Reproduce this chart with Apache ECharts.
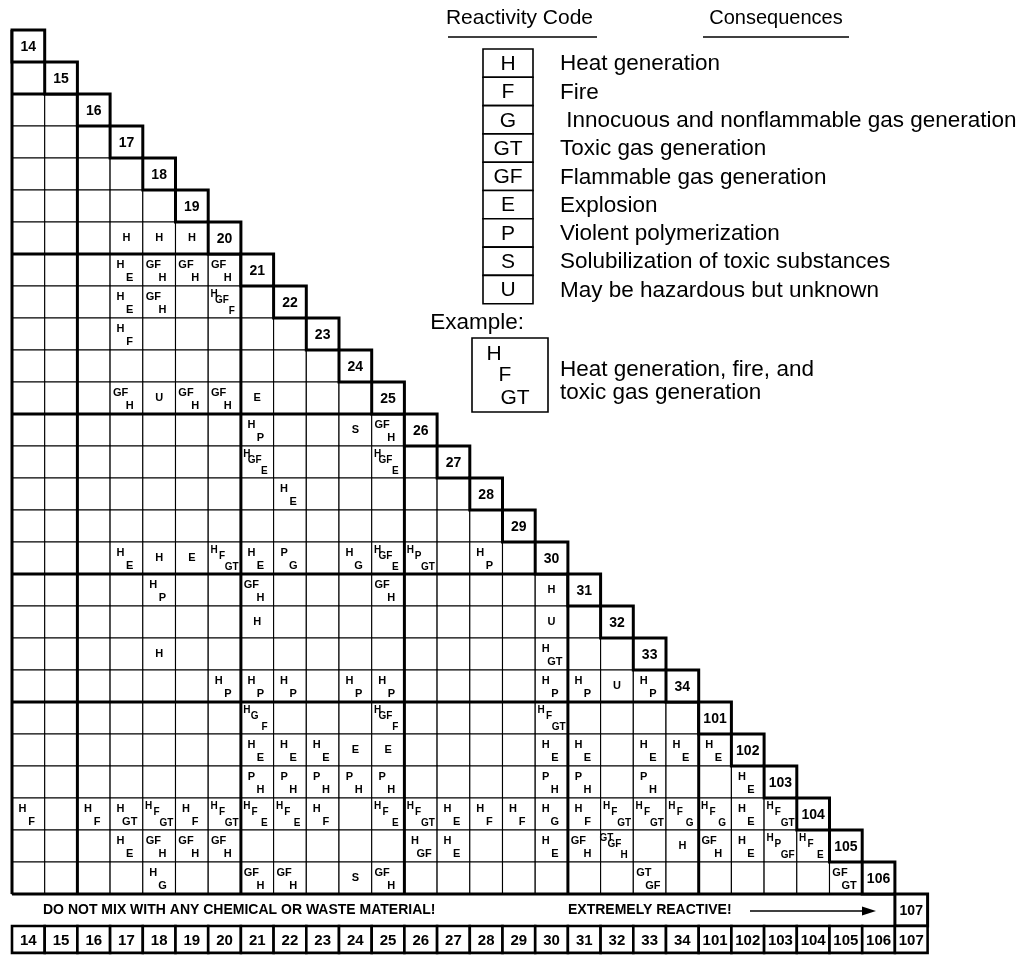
<!DOCTYPE html>
<html><head><meta charset="utf-8">
<script src="https://cdn.jsdelivr.net/npm/echarts@6/dist/echarts.min.js"></script>
<style>html,body{margin:0;padding:0;background:#fff}#c{width:1030px;height:955px}</style>
</head><body><div id="c"></div>
<script>
// ---------------- DATA ----------------
const groupLabels = ['14','15','16','17','18','19','20','21','22','23','24','25','26','27','28','29','30','31','32','33','34','101','102','103','104','105','106','107'];
// [row group, column group, reactivity codes]
const reactivity = [
  ['20','17','H'],['20','18','H'],['20','19','H'],
  ['21','17','H E'],['21','18','GF H'],['21','19','GF H'],['21','20','GF H'],
  ['22','17','H E'],['22','18','GF H'],['22','20','H GF F'],
  ['23','17','H F'],
  ['25','17','GF H'],['25','18','U'],['25','19','GF H'],['25','20','GF H'],['25','21','E'],
  ['26','21','H P'],['26','24','S'],['26','25','GF H'],
  ['27','21','H GF E'],['27','25','H GF E'],
  ['28','22','H E'],
  ['30','17','H E'],['30','18','H'],['30','19','E'],['30','20','H F GT'],['30','21','H E'],['30','22','P G'],['30','24','H G'],['30','25','H GF E'],['30','26','H P GT'],['30','28','H P'],
  ['31','18','H P'],['31','21','GF H'],['31','25','GF H'],['31','30','H'],
  ['32','21','H'],['32','30','U'],
  ['33','18','H'],['33','30','H GT'],
  ['34','20','H P'],['34','21','H P'],['34','22','H P'],['34','24','H P'],['34','25','H P'],['34','30','H P'],['34','31','H P'],['34','32','U'],['34','33','H P'],
  ['101','21','H G F'],['101','25','H GF F'],['101','30','H F GT'],
  ['102','21','H E'],['102','22','H E'],['102','23','H E'],['102','24','E'],['102','25','E'],['102','30','H E'],['102','31','H E'],['102','33','H E'],['102','34','H E'],['102','101','H E'],
  ['103','21','P H'],['103','22','P H'],['103','23','P H'],['103','24','P H'],['103','25','P H'],['103','30','P H'],['103','31','P H'],['103','33','P H'],['103','102','H E'],
  ['104','14','H F'],['104','16','H F'],['104','17','H GT'],['104','18','H F GT'],['104','19','H F'],['104','20','H F GT'],['104','21','H F E'],['104','22','H F E'],['104','23','H F'],['104','25','H F E'],['104','26','H F GT'],['104','27','H E'],['104','28','H F'],['104','29','H F'],['104','30','H G'],['104','31','H F'],['104','32','H F GT'],['104','33','H F GT'],['104','34','H F G'],['104','101','H F G'],['104','102','H E'],['104','103','H F GT'],
  ['105','17','H E'],['105','18','GF H'],['105','19','GF H'],['105','20','GF H'],['105','26','H GF'],['105','27','H E'],['105','30','H E'],['105','31','GF H'],['105','32','GT GF H'],['105','34','H'],['105','101','GF H'],['105','102','H E'],['105','103','H P GF'],['105','104','H F E'],
  ['106','18','H G'],['106','21','GF H'],['106','22','GF H'],['106','24','S'],['106','25','GF H'],['106','33','GT GF'],['106','105','GF GT']
];
const groupBreaks = ['16','21','26','31','101'];
const codeKeys = ['H','F','G','GT','GF','E','P','S','U'];
const codeMeanings = ['Heat generation','Fire',' Innocuous and nonflammable gas generation','Toxic gas generation','Flammable gas generation','Explosion','Violent polymerization','Solubilization of toxic substances','May be hazardous but unknown'];
const exampleCodes = ['H','F','GT'];
const exampleText = ['Heat generation, fire, and','toxic gas generation'];
const headerCode = 'Reactivity Code';
const headerConseq = 'Consequences';
const exampleTitle = 'Example:';
const footerLeft = 'DO NOT MIX WITH ANY CHEMICAL OR WASTE MATERIAL!';
const footerRight = 'EXTREMELY REACTIVE!';

// ---------------- BUILD ----------------
const N = groupLabels.length;
const idx = {}; groupLabels.forEach((g,i)=>idx[g]=i);
const codeMap = {};
reactivity.forEach(([r,c,codes])=>{ codeMap[idx[r]+'_'+idx[c]] = codes; });
const cellData = [], cellCodes = [];
for (let r = 1; r < N-1; r++) for (let c = 0; c < r; c++) {
  cellData.push([c, r]); cellCodes.push(codeMap[r+'_'+c] || '');
}
const diagData = groupLabels.map((g,i)=>[i,i]);
const bottomData = groupLabels.map((g,i)=>[i,N]);
const breakData = groupBreaks.map(g=>[idx[g]]);

const FONT = '"Liberation Sans", Arial, Helvetica, sans-serif';
function txt(t, x, y, font, align) {
  return {type:'text', style:{text:t, x:x, y:y, font:font, fill:'#000',
    align: align||'center', verticalAlign:'middle', textAlign: align||'center', textVerticalAlign:'middle'}};
}

function renderCell(params, api) {
  const p = api.coord([api.value(0), api.value(1)]);
  const s = api.size([1,1]); const w = s[0], h = s[1];
  const ch = [{type:'rect', shape:{x:p[0], y:p[1], width:w, height:h}, style:{fill:'#fff', stroke:'#000', lineWidth:1.1}}];
  const codes = cellCodes[params.dataIndex].split(' ').filter(Boolean);
  const f = 'bold 11px ' + FONT, f3 = 'bold 10px ' + FONT;
  if (codes.length === 1) ch.push(txt(codes[0], p[0]+w*0.5, p[1]+h*0.5, f));
  else if (codes.length === 2) {
    ch.push(txt(codes[0], p[0]+w*0.32, p[1]+h*0.33, f));
    ch.push(txt(codes[1], p[0]+w*0.6, p[1]+h*0.75, f));
  } else if (codes.length === 3) {
    ch.push(txt(codes[0], p[0]+w*0.18, p[1]+h*0.25, f3));
    ch.push(txt(codes[1], p[0]+w*0.42, p[1]+h*0.45, f3));
    ch.push(txt(codes[2], p[0]+w*0.72, p[1]+h*0.78, f3));
  }
  return {type:'group', children:ch};
}
function renderDiag(params, api) {
  const i = api.value(0);
  const p = api.coord([i, api.value(1)]);
  const s = api.size([1,1]);
  return {type:'group', children:[
    {type:'rect', shape:{x:p[0], y:p[1], width:s[0], height:s[1]}, style:{fill:'#fff', stroke:'#000', lineWidth:3}},
    txt(groupLabels[i], p[0]+s[0]/2, p[1]+s[1]/2+1, 'bold 14px ' + FONT)
  ]};
}
function renderBottom(params, api) {
  const i = api.value(0);
  const p = api.coord([i, api.value(1)]);
  const s = api.size([1,0.84]);
  return {type:'group', children:[
    {type:'rect', shape:{x:p[0], y:p[1], width:s[0], height:s[1]}, style:{fill:'#fff', stroke:'#000', lineWidth:2.6}},
    txt(groupLabels[i], p[0]+s[0]/2, p[1]+s[1]/2+1, 'bold 15px ' + FONT)
  ]};
}
function renderBreak(params, api) {
  const b = api.value(0);
  const a = api.coord([b, b]), v = api.coord([b, N-1]);
  const h0 = api.coord([0, b]);
  return {type:'group', children:[
    {type:'line', shape:{x1:a[0], y1:a[1], x2:v[0], y2:v[1]}, style:{stroke:'#000', lineWidth:3}},
    {type:'line', shape:{x1:h0[0], y1:h0[1], x2:a[0], y2:a[1]}, style:{stroke:'#000', lineWidth:3}}
  ]};
}
function renderFrame(params, api) {
  const t = api.coord([0,0]), bl = api.coord([0,N-1]), br = api.coord([N-1,N-1]);
  return {type:'group', children:[
    {type:'line', shape:{x1:t[0], y1:t[1], x2:bl[0], y2:bl[1]}, style:{stroke:'#000', lineWidth:3}},
    {type:'line', shape:{x1:bl[0], y1:bl[1], x2:br[0], y2:br[1]}, style:{stroke:'#000', lineWidth:3}}
  ]};
}

// legend graphics
const LF = '22.5px ' + FONT;
function gtext(t, x, y, font, align) {
  return {type:'text', x:x, y:y, style:{text:t, font:font, fill:'#000', textAlign:align, textVerticalAlign:'middle', align:align, verticalAlign:'middle'}};
}
const g = [];
g.push(gtext(headerCode, 593, 18, '21px '+FONT, 'right'));
g.push({type:'line', shape:{x1:448, y1:37, x2:597, y2:37}, style:{stroke:'#000', lineWidth:1.6}});
g.push(gtext(headerConseq, 776, 18, '20px '+FONT, 'center'));
g.push({type:'line', shape:{x1:703, y1:37, x2:849, y2:37}, style:{stroke:'#000', lineWidth:1.6}});
const rowH = 28.3, top0 = 49;
codeKeys.forEach((k,i)=>{
  const y = top0 + i*rowH;
  g.push({type:'rect', shape:{x:483, y:y, width:50, height:rowH}, style:{fill:'#fff', stroke:'#000', lineWidth:1.6}});
  g.push(gtext(k, 508, y+rowH/2+1, '21px '+FONT, 'center'));
  g.push(gtext(codeMeanings[i], 560, y+rowH/2+1, LF, 'left'));
});
g.push(gtext(exampleTitle, 524, 323, LF, 'right'));
g.push({type:'rect', shape:{x:472, y:338, width:76, height:74}, style:{fill:'#fff', stroke:'#000', lineWidth:1.6}});
const exPos = [[494,354],[505,375],[515,398]];
exampleCodes.forEach((k,i)=>g.push(gtext(k, exPos[i][0], exPos[i][1], '21px '+FONT, 'center')));
exampleText.forEach((t,i)=>g.push(gtext(t, 560, 370+i*23, LF, 'left')));
// footer band
g.push(gtext(footerLeft, 43, 910, 'bold 14px '+FONT, 'left'));
g.push(gtext(footerRight, 568, 910, 'bold 14px '+FONT, 'left'));
g.push({type:'line', shape:{x1:750, y1:911, x2:864, y2:911}, style:{stroke:'#000', lineWidth:1.5}});
g.push({type:'polygon', shape:{points:[[862,906.5],[876,911],[862,915.5]]}, style:{fill:'#000'}});

const chart = echarts.init(document.getElementById('c'), null, {renderer:'canvas'});
chart.setOption({
  animation:false,
  backgroundColor:'#fff',
  grid:{left:12, top:30, width:28*32.7, height:28.84*32},
  xAxis:{type:'value', min:0, max:N, show:false},
  yAxis:{type:'value', min:0, max:N+0.84, inverse:true, show:false},
  graphic:g,
  series:[
    {type:'custom', renderItem:renderCell, data:cellData, silent:true, z:1},
    {type:'custom', renderItem:renderBreak, data:breakData, silent:true, z:2},
    {type:'custom', renderItem:renderFrame, data:[[0]], silent:true, z:2},
    {type:'custom', renderItem:renderDiag, data:diagData, silent:true, z:3},
    {type:'custom', renderItem:renderBottom, data:bottomData, silent:true, z:3}
  ]
});
</script></body></html>
